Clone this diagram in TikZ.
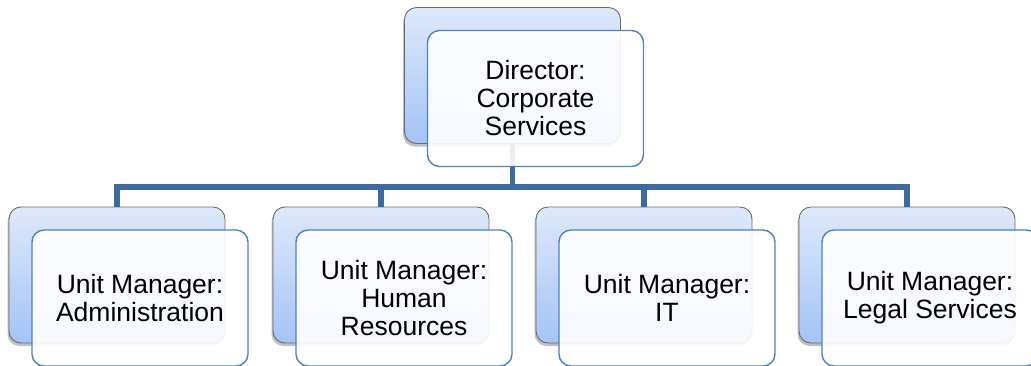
\documentclass[tikz,border=0pt]{standalone}
\usepackage{fontspec}
\setmainfont{Liberation Sans}
\usetikzlibrary{shadows}
\definecolor{gradtop}{HTML}{DEE9FA}
\definecolor{gradbot}{HTML}{A4C3F7}
\definecolor{frontline}{HTML}{4F81BD}
\definecolor{linkcol}{HTML}{3D6A9F}
\definecolor{backline}{HTML}{6A6A6A}
\tikzset{
  backbox/.style={rectangle, rounded corners=12pt, minimum width=216pt, minimum height=136pt,
    inner sep=0pt, draw=backline, line width=0.9pt, top color=gradtop, bottom color=gradbot,
    drop shadow={shadow xshift=-1.5pt, shadow yshift=-3pt, opacity=0.25, fill=black}},
  frontbox/.style={rectangle, rounded corners=12pt, minimum width=216pt, minimum height=136pt,
    inner sep=0pt, draw=frontline, line width=1.4pt, fill=white, fill opacity=0.9,
    text opacity=1, align=center, font=\fontsize{26.5}{28}\selectfont},
  link/.style={draw=linkcol, line width=5.5pt}
}
\begin{document}
\begin{tikzpicture}[x=1pt,y=-1pt]
  \useasboundingbox (0,0) rectangle (1031,365);
  \clip (0,0) rectangle (1031,365);
  % back (shaded) boxes
  \node[backbox] (dirB) at (512.5,75.5) {};
  \node[backbox] (admB) at (117,275) {};
  \node[backbox] (hrB)  at (381,275) {};
  \node[backbox] (itB)  at (644,275) {};
  \node[backbox] (legB) at (907,275) {};
  % connectors
  \coordinate (hub) at (512.5,187);
  \draw[link] (dirB.south) -- (hub);
  \draw[link] (hub) -| (admB.north);
  \draw[link] (hub) -| (hrB.north);
  \draw[link] (hub) -| (itB.north);
  \draw[link] (hub) -| (legB.north);
  % front (text) boxes
  \node[frontbox] (dirF) at (535.5,98.5) {Director:\\Corporate\\Services};
  \node[frontbox] (admF) at (140,298) {Unit Manager:\\Administration};
  \node[frontbox] (hrF)  at (404,298) {Unit Manager:\\Human\\Resources};
  \node[frontbox] (itF)  at (667,298) {Unit Manager:\\IT};
  \node[frontbox] (legF) at (930,298) {Unit Manager:\\Legal Services};
\end{tikzpicture}
\end{document}
